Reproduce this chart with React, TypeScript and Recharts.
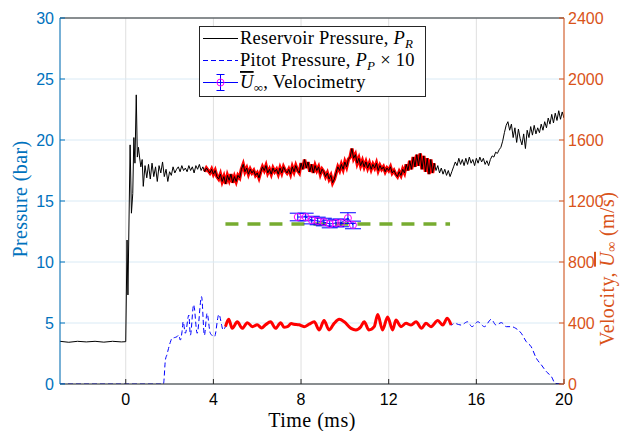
import React from 'react';
import { ComposedChart, Line, XAxis, YAxis, CartesianGrid, ErrorBar, Legend } from 'recharts';

// ---- axis ticks ----
const timeTicks = [0, 4, 8, 12, 16, 20];
const pressureTicks = [0, 5, 10, 15, 20, 25, 30];
const velocityTicks = [0, 400, 800, 1200, 1600, 2000, 2400];

// ---- reservoir pressure (bar): irregular samples before and through rupture ----
const reservoirEarlyTime = [-3, -2.6, -2.2, -1.8, -1.4, -1.0, -0.6, -0.2, 0.0, 0.06, 0.1, 0.2, 0.26, 0.32, 0.37, 0.42, 0.48, 0.53, 0.58, 0.63, 0.69, 0.75];
const reservoirEarlyBar = [3.5, 3.42, 3.5, 3.45, 3.5, 3.43, 3.5, 3.45, 3.47, 11.8, 7.3, 19.6, 14.0, 15.6, 20.2, 18.1, 23.7, 18.6, 19.4, 18.6, 17.8, 18.4];

// ---- reservoir pressure (bar) from 0.8 ms, one sample every 0.08 ms ----
const reservoirStart = 0.8;
const reservoirStep = 0.08;
const reservoirBar = [
  16.2, 17.9, 16.9, 18.0, 16.8, 18.1, 17.0, 17.8, 16.6, 17.9,
  17.3, 18.2, 17.0, 17.6, 16.6, 17.4, 17.1, 17.8, 17.3, 17.6,
  17.8, 17.4, 17.9, 17.5, 17.7, 17.4, 17.9, 17.5, 17.8, 17.3,
  17.9, 17.6, 18.0, 17.5, 17.8, 17.4, 17.7, 17.5, 17.3, 17.6,
  17.2, 17.5, 17.0, 16.8, 17.2, 16.6, 17.0, 16.4, 17.1, 16.7,
  17.2, 16.5, 17.0, 16.6, 17.1, 16.9, 17.6, 18.0, 17.4, 17.7,
  17.2, 17.6, 17.3, 17.5, 17.1, 17.3, 16.9, 17.4, 17.8, 17.5,
  17.9, 17.3, 17.6, 17.2, 17.7, 17.4, 17.6, 17.2, 17.7, 17.3,
  17.8, 17.5, 17.3, 17.6, 17.2, 17.8, 17.4, 17.9, 17.5, 17.3,
  18.1, 17.6, 18.4, 17.7, 18.2, 17.4, 18.0, 17.3, 17.9, 17.5,
  17.8, 17.2, 17.6, 17.4, 17.0, 17.3, 16.8, 17.1, 16.5, 16.8,
  17.3, 17.8, 17.5, 18.0, 17.6, 18.2, 17.8, 18.4, 18.6, 19.3,
  18.5, 18.8, 18.1, 18.5, 17.9, 18.3, 17.8, 18.2, 17.7, 18.1,
  17.6, 18.0, 17.7, 18.1, 17.5, 17.9, 17.6, 17.8, 17.4, 17.7,
  17.5, 17.8, 17.3, 17.5, 17.2, 17.0, 17.4, 17.1, 17.6, 17.3,
  18.0, 17.5, 18.3, 17.6, 18.6, 17.8, 18.8, 17.9, 18.9, 17.6,
  18.7, 17.4, 18.5, 17.2, 18.4, 17.3, 18.1, 17.5, 17.9, 17.3,
  17.7, 17.2, 17.6, 17.1, 17.5, 17.0, 17.4, 17.8, 18.2, 17.9,
  18.5, 18.0, 18.4, 17.9, 18.5, 18.0, 18.6, 18.1, 18.4, 17.9,
  18.5, 18.1, 18.6, 18.2, 18.5, 18.0, 18.3, 17.9, 18.4, 18.7,
  18.6, 19.0, 18.9, 19.2, 19.4, 19.9, 20.6, 21.2, 21.5, 20.8,
  21.3, 20.2, 21.0, 19.8, 20.9, 20.1, 19.6, 20.5, 19.3, 20.8,
  20.2, 21.1, 20.4, 21.2, 20.5, 21.0, 20.6, 21.3, 20.8, 21.5,
  21.0, 21.8, 21.3, 22.1, 21.4, 22.2, 21.6, 22.4, 21.7, 22.3,
  21.8,
];
const reservoirTestWindow = [3.6, 14.1];

// ---- Pitot pressure x10 (bar) ----
const pitotTime = [
  -3, 1.72, 1.81, 1.88, 1.95, 2.03, 2.11, 2.22, 2.34, 2.42, 2.49, 2.57, 2.62, 2.72, 2.88, 2.95, 3.1, 3.26, 3.46, 3.59,
  3.71, 3.86, 4.05, 4.25, 4.45, 4.55, 4.7, 4.86, 5.09, 5.32, 5.55, 5.78, 6.0, 6.2, 6.38, 6.61, 6.84, 7.07, 7.22, 7.38,
  7.55, 7.68, 7.91, 8.14, 8.37, 8.6, 8.83, 9.05, 9.28, 9.51, 9.74, 9.97, 10.28, 10.5, 10.73, 10.88, 11.1, 11.34, 11.5, 11.72,
  11.95, 12.18, 12.33, 12.56, 12.79, 13.02, 13.25, 13.5, 13.7, 13.93, 14.24, 14.47, 14.67, 14.85, 15.0, 15.3, 15.6, 15.8, 16.07, 16.37,
  16.68, 16.9, 17.14, 17.37, 17.6, 17.8, 18.05, 18.28, 18.5, 18.74, 18.97, 19.2, 19.43, 19.6, 20,
];
const pitotBarX10 = [
  0, 0, 1.97, 2.4, 2.9, 3.4, 3.74, 3.8, 3.88, 4.0, 3.6, 4.3, 5.1, 4.16, 5.65, 4.0, 6.5, 4.16, 7.16, 4.0,
  5.79, 4.16, 3.88, 5.7, 4.43, 4.7, 5.3, 4.56, 5.1, 4.56, 5.03, 4.7, 4.85, 4.6, 4.85, 5.1, 4.56, 5.03, 4.65, 4.7,
  4.95, 4.9, 4.85, 4.7, 4.9, 5.1, 4.43, 5.2, 4.43, 4.97, 5.3, 5.1, 4.56, 4.43, 4.7, 5.1, 4.43, 4.7, 5.7, 4.43,
  5.5, 4.43, 5.24, 4.7, 4.97, 4.83, 5.1, 4.56, 4.97, 4.7, 5.2, 4.83, 5.38, 4.83, 4.97, 4.83, 5.1, 4.7, 5.1, 4.7,
  5.3, 4.83, 5.03, 4.7, 4.7, 4.56, 4.16, 3.47, 3.06, 2.1, 1.56, 1.0, 0.6, 0.05, 0,
];
const pitotTestWindow = [4.55, 14.9];

// ---- mean free-stream velocity over the test time (m/s) ----
const meanVelocity = 1050;
const meanVelocityWindow = [4.55, 14.8];

// ---- velocimetry points (m/s) with uncertainty ----
const velocimetryTime = [7.85, 8.21, 8.49, 8.76, 9.04, 9.31, 9.59, 9.82, 10.14, 10.37];
const velocimetryMean = [1095, 1095, 1075, 1069, 1062, 1049, 1056, 1056, 1088, 1043];
const velocimetryErr = [25, 25, 25, 25, 25, 25, 25, 25, 35, 25];

// ---- series tables ----
const reservoirData = [
  ...reservoirEarlyTime.map((t, i) => ({ t, p: reservoirEarlyBar[i] })),
  ...reservoirBar.map((p, i) => ({ t: +(reservoirStart + i * reservoirStep).toFixed(2), p })),
];
const reservoirTest = reservoirData.filter((d) => d.t >= reservoirTestWindow[0] && d.t <= reservoirTestWindow[1]);
const pitotData = pitotTime.map((t, i) => ({ t, p: pitotBarX10[i] }));
const pitotTest = pitotData.filter((d) => d.t >= pitotTestWindow[0] && d.t <= pitotTestWindow[1]);
const meanData = meanVelocityWindow.map((t) => ({ t, v: meanVelocity }));
const velocimetryData = velocimetryTime.map((t, i) => ({ t, v: velocimetryMean[i], e: velocimetryErr[i] }));

const LEFT_C = '#0072BD';
const RIGHT_C = '#D95319';
const AX_C = '#262626';
const SANS = '"Liberation Sans", Arial, Helvetica, sans-serif';
const SERIF = '"Liberation Serif", "Times New Roman", serif';
const TICK_FS = 16;
const LABEL_FS = 20;

const PressureLabel = (props: any) => {
  const vb = props.viewBox;
  const cx = vb.x + 20;
  const cy = vb.y + vb.height / 2 - 2;
  return (
    <text x={cx} y={cy} transform={`rotate(-90 ${cx} ${cy})`} textAnchor="middle" dominantBaseline="central"
      fill={LEFT_C} fontFamily={SERIF} fontSize={LABEL_FS} letterSpacing={0.4}>
      Pressure (bar)
    </text>
  );
};

const VelocityLabel = (props: any) => {
  const vb = props.viewBox;
  const cx = vb.x + 43;
  const cy = vb.y + vb.height - 38;
  return (
    <text x={cx} y={cy} transform={`rotate(-90 ${cx} ${cy})`} textAnchor="start" dominantBaseline="central"
      fill={RIGHT_C} fontFamily={SERIF} fontSize={LABEL_FS} letterSpacing={0.4}>
      Velocity,{' '}
      <tspan fontStyle="italic" style={{ textDecoration: 'overline' }}>U</tspan>
      <tspan fontSize={14} dy={4}>∞</tspan>
      <tspan dy={-4}> (m/s)</tspan>
    </text>
  );
};

const TimeLabel = (props: any) => {
  const vb = props.viewBox;
  const cx = vb.x + vb.width / 2;
  return (
    <text x={cx} y={vb.y + 43} textAnchor="middle" fill="#000" fontFamily={SERIF} fontSize={LABEL_FS} letterSpacing={0.5}>
      Time (ms)
    </text>
  );
};

const LegendBox = () => (
  <svg width={227} height={71} style={{ display: 'block' }}>
    <rect x={0.5} y={0.5} width={226} height={70} fill="#fff" stroke={AX_C} strokeWidth={1} />
    <g fontFamily={SERIF} fontSize={18.5} fill="#000" letterSpacing={0.25}>
      <line x1={4} x2={39} y1={12.5} y2={12.5} stroke="#000" strokeWidth={1} />
      <text x={41} y={18}>
        Reservoir Pressure,{' '}
        <tspan fontStyle="italic">P</tspan>
        <tspan fontStyle="italic" fontSize={13} dy={4}>R</tspan>
      </text>
      <line x1={4} x2={39} y1={34.5} y2={34.5} stroke="#0000ff" strokeWidth={1} strokeDasharray="5 3" />
      <text x={41} y={40}>
        Pitot Pressure,{' '}
        <tspan fontStyle="italic">P</tspan>
        <tspan fontStyle="italic" fontSize={13} dy={4}>P</tspan>
        <tspan dy={-4}> × 10</tspan>
      </text>
      <line x1={4} x2={39} y1={56.5} y2={56.5} stroke="#0000ff" strokeWidth={1} />
      <line x1={21.5} x2={21.5} y1={48.5} y2={64.5} stroke="#0000ff" strokeWidth={1} />
      <line x1={17.5} x2={25.5} y1={48.5} y2={48.5} stroke="#0000ff" strokeWidth={1} />
      <line x1={17.5} x2={25.5} y1={64.5} y2={64.5} stroke="#0000ff" strokeWidth={1} />
      <circle cx={21.5} cy={56.5} r={3.5} fill="none" stroke="#ff00ff" strokeWidth={1} />
      <text x={41} y={62}>
        <tspan fontStyle="italic" style={{ textDecoration: 'overline' }}>U</tspan>
        <tspan fontSize={13} dy={4}>∞</tspan>
        <tspan dy={-4}>, Velocimetry</tspan>
      </text>
    </g>
  </svg>
);

export default function App() {
  return (
    <div style={{ position: 'absolute', left: 0, top: 0, width: 630, height: 431, background: '#fff' }}>
      <ComposedChart width={630} height={431} margin={{ top: 17, right: 0, bottom: 0, left: 0 }}>
        <CartesianGrid xAxisId="bottom" yAxisId="left" horizontal={false} stroke="#dfdfdf" strokeWidth={1} />
        <CartesianGrid xAxisId="bottom" yAxisId="left" vertical={false} stroke="#d9eaf5" strokeWidth={1} />
        <XAxis xAxisId="bottom" type="number" dataKey="t" domain={[-3, 20]} ticks={timeTicks} allowDataOverflow
          height={47} tickSize={-5} tickMargin={15} axisLine={{ stroke: AX_C }} tickLine={{ stroke: AX_C }}
          tick={{ fill: '#000', fontSize: TICK_FS, fontFamily: SANS }} label={{ content: TimeLabel }} />
        <XAxis xAxisId="top" orientation="top" type="number" dataKey="t" domain={[-3, 20]} ticks={timeTicks} allowDataOverflow
          height={1} tickSize={-5} tick={false} axisLine={{ stroke: AX_C }} tickLine={{ stroke: AX_C }} />
        <YAxis yAxisId="left" orientation="left" type="number" domain={[0, 30]} ticks={pressureTicks} allowDataOverflow
          width={60} tickSize={-5} tickMargin={11} axisLine={{ stroke: LEFT_C }} tickLine={{ stroke: LEFT_C }}
          tick={{ fill: LEFT_C, fontSize: TICK_FS, fontFamily: SANS }} label={{ content: PressureLabel }} />
        <YAxis yAxisId="right" orientation="right" type="number" domain={[0, 2400]} ticks={velocityTicks} allowDataOverflow
          width={66} tickSize={-5} tickMargin={9} axisLine={{ stroke: RIGHT_C }} tickLine={{ stroke: RIGHT_C }}
          tick={{ fill: RIGHT_C, fontSize: TICK_FS, fontFamily: SANS }} label={{ content: VelocityLabel }} />

        <Line xAxisId="bottom" yAxisId="left" data={pitotData} dataKey="p" type="monotone" stroke="#0000ff" strokeWidth={1}
          strokeDasharray="5 3" dot={false} activeDot={false} isAnimationActive={false} />
        <Line xAxisId="bottom" yAxisId="left" data={pitotTest} dataKey="p" type="monotone" stroke="#ff0000" strokeWidth={3}
          dot={false} activeDot={false} isAnimationActive={false} />
        <Line xAxisId="bottom" yAxisId="left" data={reservoirTest} dataKey="p" type="linear" stroke="#ff0000" strokeWidth={3.5}
          dot={false} activeDot={false} isAnimationActive={false} />
        <Line xAxisId="bottom" yAxisId="left" data={reservoirData} dataKey="p" type="linear" stroke="#000" strokeWidth={1}
          dot={false} activeDot={false} isAnimationActive={false} />
        <Line xAxisId="bottom" yAxisId="right" data={meanData} dataKey="v" type="linear" stroke="#77AC30" strokeWidth={3.5}
          strokeDasharray="13 9" dot={false} activeDot={false} isAnimationActive={false} />
        <Line xAxisId="bottom" yAxisId="right" data={velocimetryData} dataKey="v" type="linear" stroke="#0000ff" strokeWidth={1}
          dot={{ r: 3.5, stroke: '#ff00ff', strokeWidth: 1, fill: 'none' }} activeDot={false} isAnimationActive={false}>
          <ErrorBar dataKey="e" width={8} stroke="#0000ff" strokeWidth={1} direction="y" />
        </Line>

        <Legend layout="horizontal" verticalAlign="middle" align="center" content={LegendBox}
          wrapperStyle={{ position: 'absolute', left: 199, top: 26, width: 227, height: 71, margin: 0, padding: 0 }} />
      </ComposedChart>
    </div>
  );
}
